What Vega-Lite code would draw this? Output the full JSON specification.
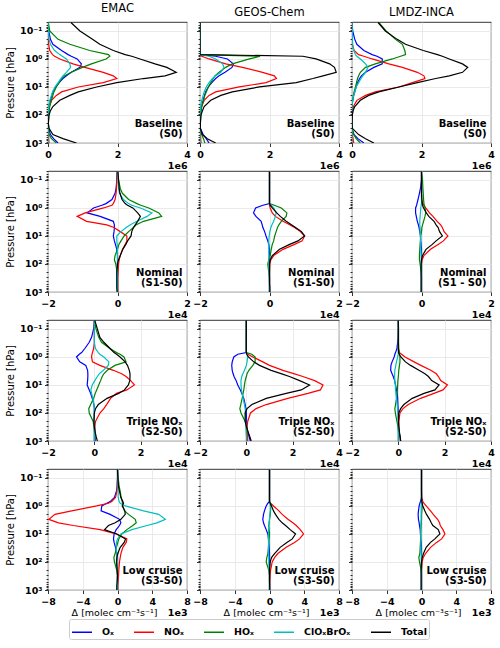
{
"$schema": "https://vega.github.io/schema/vega-lite/v6.json",
"padding": {"left": 5, "top": 2, "right": 5, "bottom": 0},
"background": "white",
"config": {
  "font": "DejaVu Sans",
  "view": {"stroke": "#000000", "strokeWidth": 0.8},
  "axis": {"domain": false, "labelOverlap": false, "labelFlush": false, "labelFont": "DejaVu Sans", "labelFontSize": 9.5, "labelFontWeight": "bold", "labelColor": "#000000", "tickColor": "#000000", "tickSize": 3.5, "tickWidth": 0.8, "gridColor": "#e5e5e5", "gridWidth": 0.8, "labelPadding": 2.5, "titleFont": "DejaVu Sans", "titleColor": "#000000", "titleFontWeight": "normal", "titleFontSize": 10},
  "legend": {"symbolType": "stroke", "symbolSize": 400, "symbolStrokeWidth": 1.5, "labelFont": "DejaVu Sans", "labelFontSize": 9.5, "labelFontWeight": "bold", "labelColor": "#000000", "labelOffset": 9, "columnPadding": 17, "padding": 2, "strokeColor": "#cccccc", "fillColor": "#ffffff", "cornerRadius": 2},
  "title": {"font": "DejaVu Sans", "fontSize": 11.5, "fontWeight": "normal", "color": "#000000", "offset": 3.3, "baseline": "alphabetic"}
},
"datasets": {
"names": [{"k":"O","name":"Oₓ"},{"k":"N","name":"NOₓ"},{"k":"H","name":"HOₓ"},{"k":"C","name":"ClOₓBrOₓ"},{"k":"T","name":"Total"}],
"d": [
{"s":1,"m":"E","p":0.05,"O":0,"N":0,"H":0.01,"C":0,"T":0.66},
{"s":1,"m":"E","p":0.1,"O":0.02,"N":0,"H":0.05,"C":0.01,"T":0.92},
{"s":1,"m":"E","p":0.2,"O":0.07,"N":0.01,"H":0.29,"C":0.03,"T":1.28},
{"s":1,"m":"E","p":0.3,"O":0.14,"N":0.02,"H":0.63,"C":0.07,"T":1.49},
{"s":1,"m":"E","p":0.5,"O":0.39,"N":0.05,"H":1.2,"C":0.19,"T":1.88},
{"s":1,"m":"E","p":0.7,"O":0.58,"N":0.13,"H":1.74,"C":0.34,"T":2.22},
{"s":1,"m":"E","p":0.8,"O":0.67,"N":0.19,"H":1.78,"C":0.41,"T":2.41},
{"s":1,"m":"E","p":1,"O":0.84,"N":0.34,"H":1.67,"C":0.53,"T":2.65},
{"s":1,"m":"E","p":1.5,"O":0.96,"N":0.72,"H":1.25,"C":0.63,"T":3.08},
{"s":1,"m":"E","p":2,"O":0.92,"N":1.06,"H":0.99,"C":0.65,"T":3.42},
{"s":1,"m":"E","p":3,"O":0.67,"N":1.59,"H":0.67,"C":0.53,"T":3.69},
{"s":1,"m":"E","p":4,"O":0.53,"N":1.88,"H":0.48,"C":0.43,"T":3.37},
{"s":1,"m":"E","p":5,"O":0.43,"N":1.98,"H":0.39,"C":0.37,"T":2.75},
{"s":1,"m":"E","p":7,"O":0.32,"N":1.59,"H":0.32,"C":0.29,"T":1.98},
{"s":1,"m":"E","p":10,"O":0.22,"N":0.87,"H":0.24,"C":0.2,"T":1.4},
{"s":1,"m":"E","p":15,"O":0.14,"N":0.39,"H":0.17,"C":0.13,"T":0.87},
{"s":1,"m":"E","p":20,"O":0.11,"N":0.24,"H":0.14,"C":0.1,"T":0.63},
{"s":1,"m":"E","p":30,"O":0.07,"N":0.1,"H":0.1,"C":0.05,"T":0.34},
{"s":1,"m":"E","p":50,"O":0.03,"N":0.03,"H":0.05,"C":0.02,"T":0.14},
{"s":1,"m":"E","p":70,"O":0.02,"N":0.01,"H":0.03,"C":0.01,"T":0.07},
{"s":1,"m":"E","p":100,"O":0.01,"N":0.01,"H":0.02,"C":0,"T":0.03},
{"s":1,"m":"E","p":200,"O":0.01,"N":0.01,"H":0.01,"C":0,"T":0.01},
{"s":1,"m":"E","p":300,"O":0.02,"N":0.01,"H":0.01,"C":0,"T":0.03},
{"s":1,"m":"E","p":500,"O":0.07,"N":0.02,"H":0.03,"C":0,"T":0.14},
{"s":1,"m":"E","p":700,"O":0.16,"N":0.02,"H":0.1,"C":0,"T":0.43},
{"s":1,"m":"E","p":1000,"O":0.29,"N":0.03,"H":0.24,"C":0.01,"T":0.82},
{"s":1,"m":"G","p":0.05,"O":0,"N":0,"H":0,"C":0,"T":0},
{"s":1,"m":"G","p":0.1,"O":0,"N":0,"H":0,"C":0,"T":0},
{"s":1,"m":"G","p":0.2,"O":0,"N":0,"H":0,"C":0,"T":0},
{"s":1,"m":"G","p":0.3,"O":0,"N":0,"H":0,"C":0,"T":0},
{"s":1,"m":"G","p":0.5,"O":0,"N":0,"H":0,"C":0,"T":0},
{"s":1,"m":"G","p":0.7,"O":0,"N":0,"H":0,"C":0,"T":0},
{"s":1,"m":"G","p":0.8,"O":0.45,"N":0.05,"H":1.73,"C":0.26,"T":2.96},
{"s":1,"m":"G","p":1,"O":0.79,"N":0.26,"H":1.42,"C":0.45,"T":3.34},
{"s":1,"m":"G","p":1.5,"O":0.96,"N":0.74,"H":0.93,"C":0.65,"T":3.73},
{"s":1,"m":"G","p":2,"O":0.92,"N":1.22,"H":0.74,"C":0.69,"T":3.87},
{"s":1,"m":"G","p":3,"O":0.72,"N":1.8,"H":0.55,"C":0.6,"T":3.92},
{"s":1,"m":"G","p":4,"O":0.55,"N":2.14,"H":0.43,"C":0.45,"T":3.54},
{"s":1,"m":"G","p":5,"O":0.45,"N":2.2,"H":0.38,"C":0.36,"T":3.25},
{"s":1,"m":"G","p":7,"O":0.34,"N":1.9,"H":0.31,"C":0.26,"T":2.77},
{"s":1,"m":"G","p":10,"O":0.24,"N":1.13,"H":0.24,"C":0.18,"T":1.71},
{"s":1,"m":"G","p":15,"O":0.16,"N":0.45,"H":0.18,"C":0.12,"T":0.93},
{"s":1,"m":"G","p":20,"O":0.13,"N":0.26,"H":0.14,"C":0.09,"T":0.6},
{"s":1,"m":"G","p":30,"O":0.09,"N":0.12,"H":0.1,"C":0.05,"T":0.31},
{"s":1,"m":"G","p":50,"O":0.04,"N":0.05,"H":0.05,"C":0.02,"T":0.12},
{"s":1,"m":"G","p":70,"O":0.02,"N":0.02,"H":0.03,"C":0.01,"T":0.07},
{"s":1,"m":"G","p":100,"O":0.01,"N":0.01,"H":0.02,"C":0,"T":0.03},
{"s":1,"m":"G","p":200,"O":0,"N":0.01,"H":0.01,"C":0,"T":0.01},
{"s":1,"m":"G","p":300,"O":0.01,"N":0.01,"H":0.01,"C":0,"T":0.01},
{"s":1,"m":"G","p":500,"O":0.09,"N":0.02,"H":0.05,"C":0,"T":0.07},
{"s":1,"m":"G","p":700,"O":0.18,"N":0.02,"H":0.1,"C":0,"T":0.21},
{"s":1,"m":"G","p":1000,"O":0.26,"N":0.03,"H":0.14,"C":0.01,"T":0.45},
{"s":1,"m":"L","p":0.05,"O":0,"N":0,"H":0.77,"C":0,"T":0.75},
{"s":1,"m":"L","p":0.1,"O":0.02,"N":0,"H":0.98,"C":0.01,"T":0.96},
{"s":1,"m":"L","p":0.2,"O":0.08,"N":0,"H":1.25,"C":0.01,"T":1.3},
{"s":1,"m":"L","p":0.3,"O":0.14,"N":0.01,"H":1.45,"C":0.02,"T":1.54},
{"s":1,"m":"L","p":0.5,"O":0.34,"N":0.06,"H":1.52,"C":0.05,"T":2.05},
{"s":1,"m":"L","p":0.7,"O":0.58,"N":0.19,"H":1.54,"C":0.1,"T":2.46},
{"s":1,"m":"L","p":0.8,"O":0.72,"N":0.34,"H":1.4,"C":0.14,"T":2.6},
{"s":1,"m":"L","p":1,"O":0.87,"N":0.58,"H":1.16,"C":0.24,"T":2.8},
{"s":1,"m":"L","p":1.5,"O":0.87,"N":1.06,"H":0.67,"C":0.39,"T":3.18},
{"s":1,"m":"L","p":2,"O":0.63,"N":1.45,"H":0.39,"C":0.46,"T":3.33},
{"s":1,"m":"L","p":3,"O":0.39,"N":1.88,"H":0.24,"C":0.39,"T":3.18},
{"s":1,"m":"L","p":4,"O":0.27,"N":2.07,"H":0.19,"C":0.31,"T":2.8},
{"s":1,"m":"L","p":5,"O":0.22,"N":2.1,"H":0.16,"C":0.26,"T":2.41},
{"s":1,"m":"L","p":7,"O":0.16,"N":1.74,"H":0.13,"C":0.19,"T":1.88},
{"s":1,"m":"L","p":10,"O":0.12,"N":1.35,"H":0.1,"C":0.12,"T":1.35},
{"s":1,"m":"L","p":15,"O":0.08,"N":0.67,"H":0.06,"C":0.08,"T":0.77},
{"s":1,"m":"L","p":20,"O":0.05,"N":0.39,"H":0.04,"C":0.05,"T":0.48},
{"s":1,"m":"L","p":30,"O":0.02,"N":0.14,"H":0.02,"C":0.02,"T":0.24},
{"s":1,"m":"L","p":50,"O":0,"N":0.04,"H":0,"C":0,"T":0.08},
{"s":1,"m":"L","p":70,"O":0,"N":0.02,"H":0,"C":0,"T":0.03},
{"s":1,"m":"L","p":100,"O":0,"N":0.01,"H":0,"C":0,"T":0.01},
{"s":1,"m":"L","p":200,"O":0,"N":0,"H":0,"C":0,"T":0},
{"s":1,"m":"L","p":300,"O":0,"N":0,"H":0,"C":0,"T":0.01},
{"s":1,"m":"L","p":500,"O":0.06,"N":0.01,"H":0.05,"C":0,"T":0.19},
{"s":1,"m":"L","p":700,"O":0.17,"N":0.03,"H":0.12,"C":0,"T":0.39},
{"s":1,"m":"L","p":1000,"O":0.34,"N":0.05,"H":0.24,"C":0,"T":0.63},
{"s":2,"m":"E","p":0.05,"O":-0.01,"N":-0.01,"H":0.01,"C":0,"T":0.01},
{"s":2,"m":"E","p":0.1,"O":-0.02,"N":-0.02,"H":0.03,"C":0.01,"T":0.03},
{"s":2,"m":"E","p":0.2,"O":-0.04,"N":-0.03,"H":0.08,"C":0.03,"T":0.05},
{"s":2,"m":"E","p":0.3,"O":-0.07,"N":-0.04,"H":0.14,"C":0.06,"T":0.07},
{"s":2,"m":"E","p":0.5,"O":-0.16,"N":-0.07,"H":0.32,"C":0.17,"T":0.13},
{"s":2,"m":"E","p":0.7,"O":-0.33,"N":-0.12,"H":0.56,"C":0.32,"T":0.22},
{"s":2,"m":"E","p":0.8,"O":-0.45,"N":-0.16,"H":0.67,"C":0.41,"T":0.29},
{"s":2,"m":"E","p":1,"O":-0.69,"N":-0.4,"H":0.9,"C":0.66,"T":0.44},
{"s":2,"m":"E","p":1.5,"O":-0.87,"N":-0.93,"H":1.19,"C":0.99,"T":0.58},
{"s":2,"m":"E","p":2,"O":-0.5,"N":-1.16,"H":1.27,"C":0.85,"T":0.66},
{"s":2,"m":"E","p":3,"O":-0.12,"N":-0.89,"H":0.75,"C":0.56,"T":0.58},
{"s":2,"m":"E","p":4,"O":-0.09,"N":-0.31,"H":0.54,"C":0.37,"T":0.51},
{"s":2,"m":"E","p":5,"O":-0.09,"N":-0.1,"H":0.46,"C":0.25,"T":0.46},
{"s":2,"m":"E","p":7,"O":-0.1,"N":0.08,"H":0.32,"C":0.1,"T":0.41},
{"s":2,"m":"E","p":10,"O":-0.12,"N":0.27,"H":0.19,"C":-0.02,"T":0.39},
{"s":2,"m":"E","p":15,"O":-0.09,"N":0.27,"H":0.1,"C":-0.02,"T":0.29},
{"s":2,"m":"E","p":20,"O":-0.06,"N":0.22,"H":0.04,"C":-0.01,"T":0.24},
{"s":2,"m":"E","p":30,"O":-0.02,"N":0.15,"H":0,"C":0,"T":0.15},
{"s":2,"m":"E","p":50,"O":0,"N":0.08,"H":-0.07,"C":0,"T":0.08},
{"s":2,"m":"E","p":70,"O":0,"N":0.05,"H":-0.09,"C":0,"T":0.03},
{"s":2,"m":"E","p":100,"O":0,"N":0.03,"H":-0.05,"C":0,"T":0},
{"s":2,"m":"E","p":200,"O":0,"N":0.02,"H":-0.01,"C":0,"T":-0.02},
{"s":2,"m":"E","p":300,"O":0,"N":0.01,"H":0,"C":0,"T":-0.02},
{"s":2,"m":"E","p":500,"O":0,"N":0.01,"H":0,"C":0,"T":-0.02},
{"s":2,"m":"E","p":700,"O":0,"N":0.01,"H":0,"C":0,"T":-0.02},
{"s":2,"m":"E","p":1000,"O":0,"N":0.01,"H":0,"C":0,"T":-0.01},
{"s":2,"m":"G","p":0.05,"O":0,"N":0,"H":0,"C":0,"T":0},
{"s":2,"m":"G","p":0.1,"O":0,"N":0,"H":0,"C":0,"T":0},
{"s":2,"m":"G","p":0.2,"O":0,"N":0,"H":0,"C":0,"T":0},
{"s":2,"m":"G","p":0.3,"O":0,"N":0,"H":0,"C":0,"T":0},
{"s":2,"m":"G","p":0.5,"O":0,"N":0,"H":0,"C":0,"T":0},
{"s":2,"m":"G","p":0.7,"O":0,"N":0,"H":0,"C":0,"T":0},
{"s":2,"m":"G","p":0.8,"O":-0.19,"N":0,"H":0.14,"C":0.05,"T":0.02},
{"s":2,"m":"G","p":1,"O":-0.4,"N":0.02,"H":0.34,"C":0.12,"T":0.08},
{"s":2,"m":"G","p":1.5,"O":-0.46,"N":0.08,"H":0.5,"C":0.19,"T":0.21},
{"s":2,"m":"G","p":2,"O":-0.39,"N":0.17,"H":0.48,"C":0.17,"T":0.31},
{"s":2,"m":"G","p":3,"O":-0.24,"N":0.39,"H":0.34,"C":0.12,"T":0.48},
{"s":2,"m":"G","p":4,"O":-0.21,"N":0.58,"H":0.27,"C":0.07,"T":0.63},
{"s":2,"m":"G","p":5,"O":-0.19,"N":0.72,"H":0.23,"C":0.04,"T":0.75},
{"s":2,"m":"G","p":7,"O":-0.14,"N":0.89,"H":0.19,"C":0.01,"T":0.92},
{"s":2,"m":"G","p":10,"O":-0.1,"N":1.01,"H":0.15,"C":-0.01,"T":1.01},
{"s":2,"m":"G","p":15,"O":-0.05,"N":0.94,"H":0.12,"C":-0.02,"T":0.82},
{"s":2,"m":"G","p":20,"O":-0.02,"N":0.72,"H":0.08,"C":-0.02,"T":0.58},
{"s":2,"m":"G","p":30,"O":0,"N":0.39,"H":0.05,"C":-0.02,"T":0.29},
{"s":2,"m":"G","p":50,"O":0,"N":0.12,"H":0.02,"C":-0.02,"T":0.08},
{"s":2,"m":"G","p":70,"O":0,"N":0.04,"H":-0.02,"C":-0.02,"T":0.02},
{"s":2,"m":"G","p":100,"O":0,"N":0.01,"H":-0.05,"C":-0.02,"T":0},
{"s":2,"m":"G","p":200,"O":0,"N":0,"H":-0.02,"C":-0.01,"T":0},
{"s":2,"m":"G","p":300,"O":0,"N":0,"H":0,"C":-0.01,"T":0},
{"s":2,"m":"G","p":500,"O":0,"N":0,"H":0,"C":0,"T":0},
{"s":2,"m":"G","p":700,"O":0,"N":0,"H":0,"C":0,"T":0.01},
{"s":2,"m":"G","p":1000,"O":0,"N":0,"H":0,"C":0,"T":0.01},
{"s":2,"m":"L","p":0.05,"O":0,"N":0,"H":0,"C":0,"T":0},
{"s":2,"m":"L","p":0.1,"O":0,"N":0,"H":0.03,"C":0,"T":0},
{"s":2,"m":"L","p":0.2,"O":-0.03,"N":0,"H":0.04,"C":0,"T":0},
{"s":2,"m":"L","p":0.3,"O":-0.06,"N":0,"H":0.05,"C":0,"T":0},
{"s":2,"m":"L","p":0.5,"O":-0.1,"N":0,"H":0.06,"C":0,"T":0.01},
{"s":2,"m":"L","p":0.7,"O":-0.13,"N":0.04,"H":0.07,"C":0,"T":0.02},
{"s":2,"m":"L","p":0.8,"O":-0.14,"N":0.07,"H":0.08,"C":-0.01,"T":0.03},
{"s":2,"m":"L","p":1,"O":-0.17,"N":0.12,"H":0.1,"C":-0.02,"T":0.06},
{"s":2,"m":"L","p":1.5,"O":-0.17,"N":0.23,"H":0.12,"C":-0.03,"T":0.14},
{"s":2,"m":"L","p":2,"O":-0.15,"N":0.33,"H":0.1,"C":-0.04,"T":0.21},
{"s":2,"m":"L","p":3,"O":-0.12,"N":0.45,"H":0.06,"C":-0.05,"T":0.36},
{"s":2,"m":"L","p":4,"O":-0.09,"N":0.55,"H":0.03,"C":-0.05,"T":0.42},
{"s":2,"m":"L","p":5,"O":-0.07,"N":0.6,"H":0.01,"C":-0.04,"T":0.48},
{"s":2,"m":"L","p":7,"O":-0.05,"N":0.65,"H":0,"C":-0.04,"T":0.52},
{"s":2,"m":"L","p":10,"O":-0.03,"N":0.76,"H":-0.02,"C":-0.03,"T":0.6},
{"s":2,"m":"L","p":15,"O":-0.02,"N":0.63,"H":-0.03,"C":-0.03,"T":0.42},
{"s":2,"m":"L","p":20,"O":-0.01,"N":0.48,"H":-0.04,"C":-0.02,"T":0.31},
{"s":2,"m":"L","p":30,"O":0,"N":0.26,"H":-0.05,"C":-0.02,"T":0.13},
{"s":2,"m":"L","p":50,"O":0,"N":0.07,"H":-0.06,"C":-0.01,"T":0.03},
{"s":2,"m":"L","p":70,"O":0,"N":0.02,"H":-0.06,"C":0,"T":0},
{"s":2,"m":"L","p":100,"O":0,"N":0,"H":-0.04,"C":0,"T":-0.01},
{"s":2,"m":"L","p":200,"O":0,"N":0,"H":-0.01,"C":0,"T":-0.01},
{"s":2,"m":"L","p":300,"O":0,"N":0,"H":0,"C":0,"T":-0.01},
{"s":2,"m":"L","p":500,"O":0,"N":0,"H":0,"C":0,"T":-0.01},
{"s":2,"m":"L","p":700,"O":0,"N":0,"H":0,"C":0,"T":-0.01},
{"s":2,"m":"L","p":1000,"O":0,"N":0,"H":0,"C":0,"T":-0.01},
{"s":3,"m":"E","p":0.05,"O":0,"N":0,"H":0,"C":0,"T":0.02},
{"s":3,"m":"E","p":0.1,"O":-0.03,"N":0,"H":0.07,"C":0,"T":0.13},
{"s":3,"m":"E","p":0.2,"O":-0.12,"N":0,"H":0.19,"C":0,"T":0.24},
{"s":3,"m":"E","p":0.3,"O":-0.22,"N":0,"H":0.31,"C":0,"T":0.41},
{"s":3,"m":"E","p":0.5,"O":-0.41,"N":-0.03,"H":0.67,"C":0.05,"T":0.68},
{"s":3,"m":"E","p":0.7,"O":-0.55,"N":-0.08,"H":0.96,"C":0.17,"T":0.85},
{"s":3,"m":"E","p":0.8,"O":-0.65,"N":-0.1,"H":1.11,"C":0.24,"T":0.96},
{"s":3,"m":"E","p":1,"O":-0.77,"N":-0.12,"H":1.28,"C":0.41,"T":1.11},
{"s":3,"m":"E","p":1.5,"O":-0.63,"N":-0.08,"H":1.37,"C":0.63,"T":1.33},
{"s":3,"m":"E","p":2,"O":-0.37,"N":0.24,"H":0.89,"C":0.6,"T":1.43},
{"s":3,"m":"E","p":3,"O":-0.29,"N":0.82,"H":0.56,"C":0.39,"T":1.51},
{"s":3,"m":"E","p":4,"O":-0.28,"N":1.18,"H":0.41,"C":0.21,"T":1.54},
{"s":3,"m":"E","p":5,"O":-0.28,"N":1.37,"H":0.34,"C":0.13,"T":1.54},
{"s":3,"m":"E","p":7,"O":-0.29,"N":1.57,"H":0.27,"C":0.02,"T":1.53},
{"s":3,"m":"E","p":10,"O":-0.31,"N":1.73,"H":0.19,"C":-0.09,"T":1.47},
{"s":3,"m":"E","p":15,"O":-0.22,"N":1.4,"H":0.1,"C":-0.15,"T":1.3},
{"s":3,"m":"E","p":20,"O":-0.16,"N":0.96,"H":0.04,"C":-0.12,"T":1.05},
{"s":3,"m":"E","p":30,"O":-0.09,"N":0.7,"H":-0.03,"C":-0.06,"T":0.55},
{"s":3,"m":"E","p":50,"O":-0.02,"N":0.53,"H":-0.16,"C":-0.02,"T":0.17},
{"s":3,"m":"E","p":70,"O":0,"N":0.41,"H":-0.24,"C":0,"T":0.05},
{"s":3,"m":"E","p":100,"O":0,"N":0.24,"H":-0.22,"C":0,"T":0},
{"s":3,"m":"E","p":200,"O":0,"N":0.05,"H":-0.05,"C":0,"T":-0.02},
{"s":3,"m":"E","p":300,"O":0.01,"N":0.02,"H":-0.02,"C":0,"T":0},
{"s":3,"m":"E","p":500,"O":0.02,"N":0.01,"H":0,"C":0,"T":0.04},
{"s":3,"m":"E","p":700,"O":0.03,"N":0.01,"H":0,"C":0,"T":0.08},
{"s":3,"m":"E","p":1000,"O":0.04,"N":0.01,"H":0,"C":0,"T":0.13},
{"s":3,"m":"G","p":0.05,"O":0,"N":0,"H":0,"C":0,"T":0},
{"s":3,"m":"G","p":0.1,"O":0,"N":0,"H":0,"C":0,"T":0},
{"s":3,"m":"G","p":0.2,"O":0,"N":0,"H":0,"C":0,"T":0},
{"s":3,"m":"G","p":0.3,"O":0,"N":0,"H":0,"C":0,"T":0},
{"s":3,"m":"G","p":0.5,"O":0,"N":0,"H":0,"C":0,"T":0},
{"s":3,"m":"G","p":0.7,"O":0,"N":0,"H":0,"C":0,"T":0},
{"s":3,"m":"G","p":0.8,"O":-0.37,"N":0.06,"H":0.24,"C":0.03,"T":0.02},
{"s":3,"m":"G","p":1,"O":-0.54,"N":0.28,"H":0.38,"C":0.06,"T":0.09},
{"s":3,"m":"G","p":1.5,"O":-0.61,"N":0.71,"H":0.38,"C":0.03,"T":0.32},
{"s":3,"m":"G","p":2,"O":-0.63,"N":1.0,"H":0.28,"C":0,"T":0.57},
{"s":3,"m":"G","p":3,"O":-0.61,"N":1.58,"H":0.11,"C":-0.08,"T":1.07},
{"s":3,"m":"G","p":4,"O":-0.57,"N":2.08,"H":0.03,"C":-0.15,"T":1.53},
{"s":3,"m":"G","p":5,"O":-0.53,"N":2.44,"H":0,"C":-0.2,"T":1.86},
{"s":3,"m":"G","p":7,"O":-0.44,"N":2.95,"H":-0.05,"C":-0.23,"T":2.3},
{"s":3,"m":"G","p":10,"O":-0.37,"N":3.31,"H":-0.08,"C":-0.23,"T":2.73},
{"s":3,"m":"G","p":15,"O":-0.26,"N":3.2,"H":-0.11,"C":-0.21,"T":2.37},
{"s":3,"m":"G","p":20,"O":-0.2,"N":2.66,"H":-0.14,"C":-0.18,"T":1.72},
{"s":3,"m":"G","p":30,"O":-0.11,"N":1.79,"H":-0.18,"C":-0.14,"T":0.86},
{"s":3,"m":"G","p":50,"O":-0.05,"N":0.86,"H":-0.24,"C":-0.08,"T":0.24},
{"s":3,"m":"G","p":70,"O":-0.02,"N":0.42,"H":-0.28,"C":-0.05,"T":0.03},
{"s":3,"m":"G","p":100,"O":0,"N":0.18,"H":-0.23,"C":-0.04,"T":-0.05},
{"s":3,"m":"G","p":200,"O":0.01,"N":0.06,"H":-0.05,"C":-0.03,"T":-0.05},
{"s":3,"m":"G","p":300,"O":0.02,"N":0.03,"H":0,"C":-0.02,"T":0},
{"s":3,"m":"G","p":500,"O":0.06,"N":0.06,"H":0.01,"C":-0.01,"T":0.09},
{"s":3,"m":"G","p":700,"O":0.12,"N":0.06,"H":0.01,"C":0,"T":0.15},
{"s":3,"m":"G","p":1000,"O":0.17,"N":0.06,"H":0.01,"C":0,"T":0.21},
{"s":3,"m":"L","p":0.05,"O":0,"N":0,"H":0,"C":0,"T":0},
{"s":3,"m":"L","p":0.1,"O":0,"N":0,"H":0.01,"C":0,"T":0},
{"s":3,"m":"L","p":0.2,"O":-0.01,"N":0,"H":0.01,"C":0,"T":0},
{"s":3,"m":"L","p":0.3,"O":-0.03,"N":0,"H":0.01,"C":0,"T":0},
{"s":3,"m":"L","p":0.5,"O":-0.06,"N":0,"H":0.02,"C":0,"T":0},
{"s":3,"m":"L","p":0.7,"O":-0.12,"N":0.05,"H":0.04,"C":0,"T":0.01},
{"s":3,"m":"L","p":0.8,"O":-0.15,"N":0.14,"H":0.05,"C":-0.01,"T":0.04},
{"s":3,"m":"L","p":1,"O":-0.18,"N":0.29,"H":0.07,"C":-0.03,"T":0.11},
{"s":3,"m":"L","p":1.5,"O":-0.27,"N":0.68,"H":0.07,"C":-0.08,"T":0.31},
{"s":3,"m":"L","p":2,"O":-0.32,"N":0.97,"H":0.05,"C":-0.11,"T":0.53},
{"s":3,"m":"L","p":3,"O":-0.33,"N":1.4,"H":0.02,"C":-0.15,"T":0.89},
{"s":3,"m":"L","p":4,"O":-0.27,"N":1.64,"H":0.01,"C":-0.16,"T":1.15},
{"s":3,"m":"L","p":5,"O":-0.22,"N":1.73,"H":0,"C":-0.16,"T":1.3},
{"s":3,"m":"L","p":7,"O":-0.16,"N":1.83,"H":-0.02,"C":-0.15,"T":1.44},
{"s":3,"m":"L","p":10,"O":-0.12,"N":2.12,"H":-0.03,"C":-0.13,"T":1.76},
{"s":3,"m":"L","p":15,"O":-0.08,"N":1.93,"H":-0.04,"C":-0.12,"T":1.58},
{"s":3,"m":"L","p":20,"O":-0.05,"N":1.54,"H":-0.06,"C":-0.11,"T":1.11},
{"s":3,"m":"L","p":30,"O":-0.03,"N":0.96,"H":-0.08,"C":-0.08,"T":0.6},
{"s":3,"m":"L","p":50,"O":-0.02,"N":0.43,"H":-0.12,"C":-0.05,"T":0.24},
{"s":3,"m":"L","p":70,"O":-0.01,"N":0.2,"H":-0.15,"C":-0.03,"T":0.1},
{"s":3,"m":"L","p":100,"O":0,"N":0.07,"H":-0.13,"C":-0.02,"T":0.02},
{"s":3,"m":"L","p":200,"O":0,"N":0.02,"H":-0.06,"C":0,"T":0.01},
{"s":3,"m":"L","p":300,"O":0.01,"N":0.02,"H":-0.02,"C":0,"T":0.02},
{"s":3,"m":"L","p":500,"O":0.04,"N":0.02,"H":0,"C":0,"T":0.05},
{"s":3,"m":"L","p":700,"O":0.07,"N":0.02,"H":0,"C":0,"T":0.08},
{"s":3,"m":"L","p":1000,"O":0.1,"N":0.02,"H":0,"C":0,"T":0.1},
{"s":4,"m":"E","p":0.05,"O":0,"N":0,"H":0,"C":0,"T":0},
{"s":4,"m":"E","p":0.1,"O":0,"N":0,"H":0.08,"C":0.02,"T":0.04},
{"s":4,"m":"E","p":0.2,"O":-0.04,"N":-0.04,"H":0.19,"C":0.04,"T":0.12},
{"s":4,"m":"E","p":0.3,"O":-0.12,"N":-0.08,"H":0.31,"C":0.06,"T":0.23},
{"s":4,"m":"E","p":0.5,"O":-0.35,"N":-0.23,"H":0.42,"C":0.08,"T":0.39},
{"s":4,"m":"E","p":0.7,"O":-0.85,"N":-0.66,"H":0.54,"C":0.19,"T":0.62},
{"s":4,"m":"E","p":0.8,"O":-1.23,"N":-1.04,"H":0.58,"C":0.31,"T":0.69},
{"s":4,"m":"E","p":1,"O":-1.81,"N":-2.4,"H":0.62,"C":0.89,"T":0.54},
{"s":4,"m":"E","p":1.5,"O":-1.89,"N":-5.28,"H":0.81,"C":3.0,"T":0.85},
{"s":4,"m":"E","p":2,"O":-0.85,"N":-7.2,"H":1.27,"C":4.74,"T":0.89},
{"s":4,"m":"E","p":3,"O":0.23,"N":-7.9,"H":2.04,"C":5.51,"T":0.39},
{"s":4,"m":"E","p":4,"O":0.39,"N":-6.8,"H":2.16,"C":4.55,"T":-0.27},
{"s":4,"m":"E","p":5,"O":0.23,"N":-5.09,"H":1.77,"C":3.39,"T":-1.04},
{"s":4,"m":"E","p":7,"O":-0.15,"N":-2.0,"H":1.08,"C":1.66,"T":-1.5},
{"s":4,"m":"E","p":10,"O":-0.39,"N":-0.15,"H":0.5,"C":0.39,"T":-0.08},
{"s":4,"m":"E","p":15,"O":-0.46,"N":1.08,"H":0.15,"C":0,"T":0.93},
{"s":4,"m":"E","p":20,"O":-0.39,"N":1.0,"H":0.04,"C":-0.12,"T":0.77},
{"s":4,"m":"E","p":30,"O":-0.23,"N":0.62,"H":-0.12,"C":-0.15,"T":0.31},
{"s":4,"m":"E","p":50,"O":-0.08,"N":0.39,"H":-0.27,"C":-0.08,"T":0.04},
{"s":4,"m":"E","p":70,"O":0,"N":0.31,"H":-0.42,"C":0,"T":-0.08},
{"s":4,"m":"E","p":100,"O":0,"N":0.23,"H":-0.35,"C":0,"T":-0.12},
{"s":4,"m":"E","p":200,"O":0,"N":0.15,"H":-0.08,"C":0,"T":-0.04},
{"s":4,"m":"E","p":300,"O":0,"N":0.12,"H":0,"C":0,"T":0},
{"s":4,"m":"E","p":500,"O":0,"N":0.08,"H":0,"C":0,"T":-0.04},
{"s":4,"m":"E","p":700,"O":0,"N":0.04,"H":0,"C":0,"T":-0.08},
{"s":4,"m":"E","p":1000,"O":0,"N":0.04,"H":0,"C":0,"T":-0.08},
{"s":4,"m":"G","p":0.05,"O":0,"N":0,"H":0,"C":0,"T":0},
{"s":4,"m":"G","p":0.1,"O":0,"N":0,"H":0,"C":0,"T":0},
{"s":4,"m":"G","p":0.2,"O":0,"N":0,"H":0,"C":0,"T":0},
{"s":4,"m":"G","p":0.3,"O":0,"N":0,"H":0,"C":0,"T":0},
{"s":4,"m":"G","p":0.5,"O":0,"N":0,"H":0,"C":0,"T":0},
{"s":4,"m":"G","p":0.7,"O":0,"N":0,"H":0,"C":0,"T":0},
{"s":4,"m":"G","p":0.8,"O":-0.19,"N":0.12,"H":0.12,"C":0.04,"T":0.08},
{"s":4,"m":"G","p":1,"O":-0.38,"N":0.46,"H":0.15,"C":0.08,"T":0.23},
{"s":4,"m":"G","p":1.5,"O":-0.58,"N":1.08,"H":0.12,"C":0.08,"T":0.46},
{"s":4,"m":"G","p":2,"O":-0.69,"N":1.46,"H":0.08,"C":0.04,"T":0.69},
{"s":4,"m":"G","p":3,"O":-0.77,"N":2.12,"H":0,"C":0,"T":1.08},
{"s":4,"m":"G","p":4,"O":-0.69,"N":2.69,"H":-0.04,"C":-0.04,"T":1.46},
{"s":4,"m":"G","p":5,"O":-0.58,"N":3.08,"H":-0.08,"C":-0.08,"T":1.85},
{"s":4,"m":"G","p":7,"O":-0.38,"N":3.54,"H":-0.04,"C":-0.1,"T":2.38},
{"s":4,"m":"G","p":10,"O":-0.19,"N":3.92,"H":0,"C":-0.12,"T":3.0},
{"s":4,"m":"G","p":15,"O":-0.12,"N":3.46,"H":-0.04,"C":-0.12,"T":2.62},
{"s":4,"m":"G","p":20,"O":-0.08,"N":2.88,"H":-0.08,"C":-0.12,"T":2.0},
{"s":4,"m":"G","p":30,"O":-0.04,"N":1.92,"H":-0.12,"C":-0.12,"T":1.23},
{"s":4,"m":"G","p":50,"O":0,"N":0.96,"H":-0.19,"C":-0.1,"T":0.58},
{"s":4,"m":"G","p":70,"O":0,"N":0.58,"H":-0.31,"C":-0.08,"T":0.23},
{"s":4,"m":"G","p":100,"O":0,"N":0.31,"H":-0.38,"C":-0.08,"T":0.08},
{"s":4,"m":"G","p":200,"O":0,"N":0.12,"H":-0.08,"C":-0.04,"T":0},
{"s":4,"m":"G","p":300,"O":0,"N":0.08,"H":0,"C":0,"T":0},
{"s":4,"m":"G","p":500,"O":0,"N":0.04,"H":0,"C":0,"T":0},
{"s":4,"m":"G","p":700,"O":0,"N":0.02,"H":0,"C":0,"T":0.02},
{"s":4,"m":"G","p":1000,"O":0,"N":0,"H":0,"C":0,"T":0.04},
{"s":4,"m":"L","p":0.05,"O":0,"N":0,"H":0,"C":0,"T":0},
{"s":4,"m":"L","p":0.1,"O":0,"N":0,"H":0,"C":0,"T":0},
{"s":4,"m":"L","p":0.2,"O":0,"N":0,"H":0,"C":0,"T":0},
{"s":4,"m":"L","p":0.3,"O":0,"N":0,"H":0,"C":0,"T":0},
{"s":4,"m":"L","p":0.5,"O":0,"N":0.04,"H":0,"C":0,"T":0},
{"s":4,"m":"L","p":0.7,"O":-0.12,"N":0.15,"H":0,"C":0,"T":0.04},
{"s":4,"m":"L","p":0.8,"O":-0.19,"N":0.27,"H":0.04,"C":0,"T":0.08},
{"s":4,"m":"L","p":1,"O":-0.27,"N":0.54,"H":0.08,"C":-0.04,"T":0.15},
{"s":4,"m":"L","p":1.5,"O":-0.35,"N":1.04,"H":0.04,"C":-0.04,"T":0.39},
{"s":4,"m":"L","p":2,"O":-0.39,"N":1.35,"H":0,"C":-0.04,"T":0.58},
{"s":4,"m":"L","p":3,"O":-0.35,"N":1.85,"H":0,"C":-0.04,"T":0.93},
{"s":4,"m":"L","p":4,"O":-0.27,"N":2.08,"H":-0.02,"C":-0.06,"T":1.12},
{"s":4,"m":"L","p":5,"O":-0.23,"N":2.16,"H":-0.04,"C":-0.08,"T":1.31},
{"s":4,"m":"L","p":7,"O":-0.15,"N":2.47,"H":-0.06,"C":-0.08,"T":1.93},
{"s":4,"m":"L","p":10,"O":-0.12,"N":2.7,"H":-0.08,"C":-0.08,"T":2.12},
{"s":4,"m":"L","p":15,"O":-0.08,"N":2.32,"H":-0.1,"C":-0.08,"T":1.54},
{"s":4,"m":"L","p":20,"O":-0.04,"N":1.74,"H":-0.12,"C":-0.08,"T":1.04},
{"s":4,"m":"L","p":30,"O":0,"N":1.04,"H":-0.15,"C":-0.06,"T":0.54},
{"s":4,"m":"L","p":50,"O":0,"N":0.46,"H":-0.19,"C":-0.04,"T":0.23},
{"s":4,"m":"L","p":70,"O":0,"N":0.19,"H":-0.31,"C":-0.02,"T":0.08},
{"s":4,"m":"L","p":100,"O":0,"N":0.08,"H":-0.23,"C":0,"T":0},
{"s":4,"m":"L","p":200,"O":0,"N":0,"H":-0.04,"C":0,"T":-0.04},
{"s":4,"m":"L","p":300,"O":0,"N":0,"H":0,"C":0,"T":-0.04},
{"s":4,"m":"L","p":500,"O":0,"N":0,"H":0,"C":0,"T":-0.04},
{"s":4,"m":"L","p":700,"O":0,"N":0,"H":0,"C":0,"T":-0.04},
{"s":4,"m":"L","p":1000,"O":0,"N":0,"H":0,"C":0,"T":-0.04}
]},
"data": {"name": "d"},
"transform": [
  {"fold": ["O","N","H","C","T"], "as": ["k","v"]},
  {"lookup": "k", "from": {"data": {"name": "names"}, "key": "k", "fields": ["name"]}}
],
"columns": 3,
"spacing": {"row": 28, "column": 13},
"bounds": "flush",
"resolve": {"scale": {"x": "independent", "y": "independent"}, "axis": {"x": "independent", "y": "independent"}},
"concat": [
  {"width": 139, "height": 121, "title": "EMAC", "layer": [
   {"transform": [{"filter": "datum.s==1 && datum.m=='E'"}],
    "mark": {"type": "line", "strokeWidth": 1.2, "clip": true},
    "encoding": {
     "x": {"field": "v", "type": "quantitative", "scale": {"domain": [0,4], "nice": false, "zero": false}, "axis": {"values": [0,1,2,3,4], "title": "1e6", "titleX": 139, "titleY": 25.5, "titleAlign": "right", "titleBaseline": "alphabetic", "titleFontWeight": "bold", "titleFontSize": 9.5}},
     "y": {"field": "p", "type": "quantitative", "scale": {"type": "log", "domain": [0.048,1000], "reverse": true, "nice": false}, "axis": {"title": "Pressure [hPa]", "titlePadding": 4, "values": [0.05,0.06,0.07,0.08,0.09,0.1,0.2,0.3,0.4,0.5,0.6,0.7,0.8,0.9,1,2,3,4,5,6,7,8,9,10,20,30,40,50,60,70,80,90,100,200,300,400,500,600,700,800,900,1000], "labelExpr": "datum.value == 0.1 ? '10⁻¹' : datum.value == 1 ? '10⁰' : datum.value == 10 ? '10¹' : datum.value == 100 ? '10²' : datum.value == 1000 ? '10³' : ''", "tickSize": {"condition": {"test": "indexof([0.1,1,10,100,1000], datum.value) >= 0", "value": 3.5}, "value": 2}, "gridOpacity": {"condition": {"test": "indexof([0.1,1,10,100,1000], datum.value) >= 0", "value": 1}, "value": 0}}},
     "color": {"field": "name", "type": "nominal", "title": null, "scale": {"domain": ["Oₓ","NOₓ","HOₓ","ClOₓBrOₓ","Total"], "range": ["#0000ff","#ff0000","#008000","#00bfbf","#000000"]}, "legend": {"orient": "none", "legendX": 21, "legendY": 597, "direction": "horizontal"}},
     "order": {"field": "p", "type": "quantitative"}}},
   {"data": {"values": [{}]},
    "mark": {"type": "text", "align": "right", "baseline": "alphabetic", "dx": -4.5, "dy": -16.5, "fontSize": 10, "fontWeight": "bold", "lineHeight": 10.8},
    "encoding": {"x": {"datum": 4}, "y": {"datum": 1000}, "text": {"value": ["Baseline","(S0)"]}}}
  ]},
  {"width": 139, "height": 121, "title": "GEOS-Chem", "layer": [
   {"transform": [{"filter": "datum.s==1 && datum.m=='G'"}],
    "mark": {"type": "line", "strokeWidth": 1.2, "clip": true},
    "encoding": {
     "x": {"field": "v", "type": "quantitative", "scale": {"domain": [0,4], "nice": false, "zero": false}, "axis": {"values": [0,1,2,3,4], "title": "1e6", "titleX": 139, "titleY": 25.5, "titleAlign": "right", "titleBaseline": "alphabetic", "titleFontWeight": "bold", "titleFontSize": 9.5}},
     "y": {"field": "p", "type": "quantitative", "scale": {"type": "log", "domain": [0.048,1000], "reverse": true, "nice": false}, "axis": {"title": null, "labels": false, "values": [0.05,0.06,0.07,0.08,0.09,0.1,0.2,0.3,0.4,0.5,0.6,0.7,0.8,0.9,1,2,3,4,5,6,7,8,9,10,20,30,40,50,60,70,80,90,100,200,300,400,500,600,700,800,900,1000], "tickSize": {"condition": {"test": "indexof([0.1,1,10,100,1000], datum.value) >= 0", "value": 3.5}, "value": 2}, "gridOpacity": {"condition": {"test": "indexof([0.1,1,10,100,1000], datum.value) >= 0", "value": 1}, "value": 0}}},
     "color": {"field": "name", "type": "nominal", "title": null, "scale": {"domain": ["Oₓ","NOₓ","HOₓ","ClOₓBrOₓ","Total"], "range": ["#0000ff","#ff0000","#008000","#00bfbf","#000000"]}, "legend": {"orient": "none", "legendX": 21, "legendY": 597, "direction": "horizontal"}},
     "order": {"field": "p", "type": "quantitative"}}},
   {"data": {"values": [{}]},
    "mark": {"type": "text", "align": "right", "baseline": "alphabetic", "dx": -4.5, "dy": -16.5, "fontSize": 10, "fontWeight": "bold", "lineHeight": 10.8},
    "encoding": {"x": {"datum": 4}, "y": {"datum": 1000}, "text": {"value": ["Baseline","(S0)"]}}}
  ]},
  {"width": 139, "height": 121, "title": "LMDZ-INCA", "layer": [
   {"transform": [{"filter": "datum.s==1 && datum.m=='L'"}],
    "mark": {"type": "line", "strokeWidth": 1.2, "clip": true},
    "encoding": {
     "x": {"field": "v", "type": "quantitative", "scale": {"domain": [0,4], "nice": false, "zero": false}, "axis": {"values": [0,1,2,3,4], "title": "1e6", "titleX": 139, "titleY": 25.5, "titleAlign": "right", "titleBaseline": "alphabetic", "titleFontWeight": "bold", "titleFontSize": 9.5}},
     "y": {"field": "p", "type": "quantitative", "scale": {"type": "log", "domain": [0.048,1000], "reverse": true, "nice": false}, "axis": {"title": null, "labels": false, "values": [0.05,0.06,0.07,0.08,0.09,0.1,0.2,0.3,0.4,0.5,0.6,0.7,0.8,0.9,1,2,3,4,5,6,7,8,9,10,20,30,40,50,60,70,80,90,100,200,300,400,500,600,700,800,900,1000], "tickSize": {"condition": {"test": "indexof([0.1,1,10,100,1000], datum.value) >= 0", "value": 3.5}, "value": 2}, "gridOpacity": {"condition": {"test": "indexof([0.1,1,10,100,1000], datum.value) >= 0", "value": 1}, "value": 0}}},
     "color": {"field": "name", "type": "nominal", "title": null, "scale": {"domain": ["Oₓ","NOₓ","HOₓ","ClOₓBrOₓ","Total"], "range": ["#0000ff","#ff0000","#008000","#00bfbf","#000000"]}, "legend": {"orient": "none", "legendX": 21, "legendY": 597, "direction": "horizontal"}},
     "order": {"field": "p", "type": "quantitative"}}},
   {"data": {"values": [{}]},
    "mark": {"type": "text", "align": "right", "baseline": "alphabetic", "dx": -4.5, "dy": -16.5, "fontSize": 10, "fontWeight": "bold", "lineHeight": 10.8},
    "encoding": {"x": {"datum": 4}, "y": {"datum": 1000}, "text": {"value": ["Baseline","(S0)"]}}}
  ]},
  {"width": 139, "height": 121, "layer": [
   {"transform": [{"filter": "datum.s==2 && datum.m=='E'"}],
    "mark": {"type": "line", "strokeWidth": 1.2, "clip": true},
    "encoding": {
     "x": {"field": "v", "type": "quantitative", "scale": {"domain": [-2,2], "nice": false, "zero": false}, "axis": {"values": [-2,-1,0,1,2], "title": "1e4", "titleX": 139, "titleY": 25.5, "titleAlign": "right", "titleBaseline": "alphabetic", "titleFontWeight": "bold", "titleFontSize": 9.5}},
     "y": {"field": "p", "type": "quantitative", "scale": {"type": "log", "domain": [0.048,1000], "reverse": true, "nice": false}, "axis": {"title": "Pressure [hPa]", "titlePadding": 4, "values": [0.05,0.06,0.07,0.08,0.09,0.1,0.2,0.3,0.4,0.5,0.6,0.7,0.8,0.9,1,2,3,4,5,6,7,8,9,10,20,30,40,50,60,70,80,90,100,200,300,400,500,600,700,800,900,1000], "labelExpr": "datum.value == 0.1 ? '10⁻¹' : datum.value == 1 ? '10⁰' : datum.value == 10 ? '10¹' : datum.value == 100 ? '10²' : datum.value == 1000 ? '10³' : ''", "tickSize": {"condition": {"test": "indexof([0.1,1,10,100,1000], datum.value) >= 0", "value": 3.5}, "value": 2}, "gridOpacity": {"condition": {"test": "indexof([0.1,1,10,100,1000], datum.value) >= 0", "value": 1}, "value": 0}}},
     "color": {"field": "name", "type": "nominal", "title": null, "scale": {"domain": ["Oₓ","NOₓ","HOₓ","ClOₓBrOₓ","Total"], "range": ["#0000ff","#ff0000","#008000","#00bfbf","#000000"]}, "legend": {"orient": "none", "legendX": 21, "legendY": 597, "direction": "horizontal"}},
     "order": {"field": "p", "type": "quantitative"}}},
   {"data": {"values": [{}]},
    "mark": {"type": "text", "align": "right", "baseline": "alphabetic", "dx": -4.5, "dy": -16.5, "fontSize": 10, "fontWeight": "bold", "lineHeight": 10.8},
    "encoding": {"x": {"datum": 2}, "y": {"datum": 1000}, "text": {"value": ["Nominal","(S1-S0)"]}}}
  ]},
  {"width": 139, "height": 121, "layer": [
   {"transform": [{"filter": "datum.s==2 && datum.m=='G'"}],
    "mark": {"type": "line", "strokeWidth": 1.2, "clip": true},
    "encoding": {
     "x": {"field": "v", "type": "quantitative", "scale": {"domain": [-2,2], "nice": false, "zero": false}, "axis": {"values": [-2,-1,0,1,2], "title": "1e4", "titleX": 139, "titleY": 25.5, "titleAlign": "right", "titleBaseline": "alphabetic", "titleFontWeight": "bold", "titleFontSize": 9.5}},
     "y": {"field": "p", "type": "quantitative", "scale": {"type": "log", "domain": [0.048,1000], "reverse": true, "nice": false}, "axis": {"title": null, "labels": false, "values": [0.05,0.06,0.07,0.08,0.09,0.1,0.2,0.3,0.4,0.5,0.6,0.7,0.8,0.9,1,2,3,4,5,6,7,8,9,10,20,30,40,50,60,70,80,90,100,200,300,400,500,600,700,800,900,1000], "tickSize": {"condition": {"test": "indexof([0.1,1,10,100,1000], datum.value) >= 0", "value": 3.5}, "value": 2}, "gridOpacity": {"condition": {"test": "indexof([0.1,1,10,100,1000], datum.value) >= 0", "value": 1}, "value": 0}}},
     "color": {"field": "name", "type": "nominal", "title": null, "scale": {"domain": ["Oₓ","NOₓ","HOₓ","ClOₓBrOₓ","Total"], "range": ["#0000ff","#ff0000","#008000","#00bfbf","#000000"]}, "legend": {"orient": "none", "legendX": 21, "legendY": 597, "direction": "horizontal"}},
     "order": {"field": "p", "type": "quantitative"}}},
   {"data": {"values": [{}]},
    "mark": {"type": "text", "align": "right", "baseline": "alphabetic", "dx": -4.5, "dy": -16.5, "fontSize": 10, "fontWeight": "bold", "lineHeight": 10.8},
    "encoding": {"x": {"datum": 2}, "y": {"datum": 1000}, "text": {"value": ["Nominal","(S1-S0)"]}}}
  ]},
  {"width": 139, "height": 121, "layer": [
   {"transform": [{"filter": "datum.s==2 && datum.m=='L'"}],
    "mark": {"type": "line", "strokeWidth": 1.2, "clip": true},
    "encoding": {
     "x": {"field": "v", "type": "quantitative", "scale": {"domain": [-2,2], "nice": false, "zero": false}, "axis": {"values": [-2,-1,0,1,2], "title": "1e4", "titleX": 139, "titleY": 25.5, "titleAlign": "right", "titleBaseline": "alphabetic", "titleFontWeight": "bold", "titleFontSize": 9.5}},
     "y": {"field": "p", "type": "quantitative", "scale": {"type": "log", "domain": [0.048,1000], "reverse": true, "nice": false}, "axis": {"title": null, "labels": false, "values": [0.05,0.06,0.07,0.08,0.09,0.1,0.2,0.3,0.4,0.5,0.6,0.7,0.8,0.9,1,2,3,4,5,6,7,8,9,10,20,30,40,50,60,70,80,90,100,200,300,400,500,600,700,800,900,1000], "tickSize": {"condition": {"test": "indexof([0.1,1,10,100,1000], datum.value) >= 0", "value": 3.5}, "value": 2}, "gridOpacity": {"condition": {"test": "indexof([0.1,1,10,100,1000], datum.value) >= 0", "value": 1}, "value": 0}}},
     "color": {"field": "name", "type": "nominal", "title": null, "scale": {"domain": ["Oₓ","NOₓ","HOₓ","ClOₓBrOₓ","Total"], "range": ["#0000ff","#ff0000","#008000","#00bfbf","#000000"]}, "legend": {"orient": "none", "legendX": 21, "legendY": 597, "direction": "horizontal"}},
     "order": {"field": "p", "type": "quantitative"}}},
   {"data": {"values": [{}]},
    "mark": {"type": "text", "align": "right", "baseline": "alphabetic", "dx": -4.5, "dy": -16.5, "fontSize": 10, "fontWeight": "bold", "lineHeight": 10.8},
    "encoding": {"x": {"datum": 2}, "y": {"datum": 1000}, "text": {"value": ["Nominal","(S1 - S0)"]}}}
  ]},
  {"width": 139, "height": 121, "layer": [
   {"transform": [{"filter": "datum.s==3 && datum.m=='E'"}],
    "mark": {"type": "line", "strokeWidth": 1.2, "clip": true},
    "encoding": {
     "x": {"field": "v", "type": "quantitative", "scale": {"domain": [-2,4], "nice": false, "zero": false}, "axis": {"values": [-2,-1,0,1,2,3,4], "title": "1e4", "titleX": 139, "titleY": 25.5, "titleAlign": "right", "titleBaseline": "alphabetic", "titleFontWeight": "bold", "titleFontSize": 9.5}},
     "y": {"field": "p", "type": "quantitative", "scale": {"type": "log", "domain": [0.048,1000], "reverse": true, "nice": false}, "axis": {"title": "Pressure [hPa]", "titlePadding": 4, "values": [0.05,0.06,0.07,0.08,0.09,0.1,0.2,0.3,0.4,0.5,0.6,0.7,0.8,0.9,1,2,3,4,5,6,7,8,9,10,20,30,40,50,60,70,80,90,100,200,300,400,500,600,700,800,900,1000], "labelExpr": "datum.value == 0.1 ? '10⁻¹' : datum.value == 1 ? '10⁰' : datum.value == 10 ? '10¹' : datum.value == 100 ? '10²' : datum.value == 1000 ? '10³' : ''", "tickSize": {"condition": {"test": "indexof([0.1,1,10,100,1000], datum.value) >= 0", "value": 3.5}, "value": 2}, "gridOpacity": {"condition": {"test": "indexof([0.1,1,10,100,1000], datum.value) >= 0", "value": 1}, "value": 0}}},
     "color": {"field": "name", "type": "nominal", "title": null, "scale": {"domain": ["Oₓ","NOₓ","HOₓ","ClOₓBrOₓ","Total"], "range": ["#0000ff","#ff0000","#008000","#00bfbf","#000000"]}, "legend": {"orient": "none", "legendX": 21, "legendY": 597, "direction": "horizontal"}},
     "order": {"field": "p", "type": "quantitative"}}},
   {"data": {"values": [{}]},
    "mark": {"type": "text", "align": "right", "baseline": "alphabetic", "dx": -4.5, "dy": -16.5, "fontSize": 10, "fontWeight": "bold", "lineHeight": 10.8},
    "encoding": {"x": {"datum": 4}, "y": {"datum": 1000}, "text": {"value": ["Triple NOₓ","(S2-S0)"]}}}
  ]},
  {"width": 139, "height": 121, "layer": [
   {"transform": [{"filter": "datum.s==3 && datum.m=='G'"}],
    "mark": {"type": "line", "strokeWidth": 1.2, "clip": true},
    "encoding": {
     "x": {"field": "v", "type": "quantitative", "scale": {"domain": [-2,4], "nice": false, "zero": false}, "axis": {"values": [-2,-1,0,1,2,3,4], "title": "1e4", "titleX": 139, "titleY": 25.5, "titleAlign": "right", "titleBaseline": "alphabetic", "titleFontWeight": "bold", "titleFontSize": 9.5}},
     "y": {"field": "p", "type": "quantitative", "scale": {"type": "log", "domain": [0.048,1000], "reverse": true, "nice": false}, "axis": {"title": null, "labels": false, "values": [0.05,0.06,0.07,0.08,0.09,0.1,0.2,0.3,0.4,0.5,0.6,0.7,0.8,0.9,1,2,3,4,5,6,7,8,9,10,20,30,40,50,60,70,80,90,100,200,300,400,500,600,700,800,900,1000], "tickSize": {"condition": {"test": "indexof([0.1,1,10,100,1000], datum.value) >= 0", "value": 3.5}, "value": 2}, "gridOpacity": {"condition": {"test": "indexof([0.1,1,10,100,1000], datum.value) >= 0", "value": 1}, "value": 0}}},
     "color": {"field": "name", "type": "nominal", "title": null, "scale": {"domain": ["Oₓ","NOₓ","HOₓ","ClOₓBrOₓ","Total"], "range": ["#0000ff","#ff0000","#008000","#00bfbf","#000000"]}, "legend": {"orient": "none", "legendX": 21, "legendY": 597, "direction": "horizontal"}},
     "order": {"field": "p", "type": "quantitative"}}},
   {"data": {"values": [{}]},
    "mark": {"type": "text", "align": "right", "baseline": "alphabetic", "dx": -4.5, "dy": -16.5, "fontSize": 10, "fontWeight": "bold", "lineHeight": 10.8},
    "encoding": {"x": {"datum": 4}, "y": {"datum": 1000}, "text": {"value": ["Triple NOₓ","(S2-S0)"]}}}
  ]},
  {"width": 139, "height": 121, "layer": [
   {"transform": [{"filter": "datum.s==3 && datum.m=='L'"}],
    "mark": {"type": "line", "strokeWidth": 1.2, "clip": true},
    "encoding": {
     "x": {"field": "v", "type": "quantitative", "scale": {"domain": [-2,4], "nice": false, "zero": false}, "axis": {"values": [-2,-1,0,1,2,3,4], "title": "1e4", "titleX": 139, "titleY": 25.5, "titleAlign": "right", "titleBaseline": "alphabetic", "titleFontWeight": "bold", "titleFontSize": 9.5}},
     "y": {"field": "p", "type": "quantitative", "scale": {"type": "log", "domain": [0.048,1000], "reverse": true, "nice": false}, "axis": {"title": null, "labels": false, "values": [0.05,0.06,0.07,0.08,0.09,0.1,0.2,0.3,0.4,0.5,0.6,0.7,0.8,0.9,1,2,3,4,5,6,7,8,9,10,20,30,40,50,60,70,80,90,100,200,300,400,500,600,700,800,900,1000], "tickSize": {"condition": {"test": "indexof([0.1,1,10,100,1000], datum.value) >= 0", "value": 3.5}, "value": 2}, "gridOpacity": {"condition": {"test": "indexof([0.1,1,10,100,1000], datum.value) >= 0", "value": 1}, "value": 0}}},
     "color": {"field": "name", "type": "nominal", "title": null, "scale": {"domain": ["Oₓ","NOₓ","HOₓ","ClOₓBrOₓ","Total"], "range": ["#0000ff","#ff0000","#008000","#00bfbf","#000000"]}, "legend": {"orient": "none", "legendX": 21, "legendY": 597, "direction": "horizontal"}},
     "order": {"field": "p", "type": "quantitative"}}},
   {"data": {"values": [{}]},
    "mark": {"type": "text", "align": "right", "baseline": "alphabetic", "dx": -4.5, "dy": -16.5, "fontSize": 10, "fontWeight": "bold", "lineHeight": 10.8},
    "encoding": {"x": {"datum": 4}, "y": {"datum": 1000}, "text": {"value": ["Triple NOₓ","(S2-S0)"]}}}
  ]},
  {"width": 139, "height": 121, "resolve": {"axis": {"x": "independent"}}, "layer": [
   {"transform": [{"filter": "datum.s==4 && datum.m=='E'"}],
    "mark": {"type": "line", "strokeWidth": 1.2, "clip": true},
    "encoding": {
     "x": {"field": "v", "type": "quantitative", "scale": {"domain": [-8,8], "nice": false, "zero": false}, "axis": {"values": [-8,-4,0,4,8], "title": "Δ [molec cm⁻³s⁻¹]", "titleX": 66, "titleY": 25.5, "titleAlign": "center", "titleBaseline": "alphabetic", "titleFontWeight": "normal", "titleFontSize": 9.5}},
     "y": {"field": "p", "type": "quantitative", "scale": {"type": "log", "domain": [0.048,1000], "reverse": true, "nice": false}, "axis": {"title": "Pressure [hPa]", "titlePadding": 4, "values": [0.05,0.06,0.07,0.08,0.09,0.1,0.2,0.3,0.4,0.5,0.6,0.7,0.8,0.9,1,2,3,4,5,6,7,8,9,10,20,30,40,50,60,70,80,90,100,200,300,400,500,600,700,800,900,1000], "labelExpr": "datum.value == 0.1 ? '10⁻¹' : datum.value == 1 ? '10⁰' : datum.value == 10 ? '10¹' : datum.value == 100 ? '10²' : datum.value == 1000 ? '10³' : ''", "tickSize": {"condition": {"test": "indexof([0.1,1,10,100,1000], datum.value) >= 0", "value": 3.5}, "value": 2}, "gridOpacity": {"condition": {"test": "indexof([0.1,1,10,100,1000], datum.value) >= 0", "value": 1}, "value": 0}}},
     "color": {"field": "name", "type": "nominal", "title": null, "scale": {"domain": ["Oₓ","NOₓ","HOₓ","ClOₓBrOₓ","Total"], "range": ["#0000ff","#ff0000","#008000","#00bfbf","#000000"]}, "legend": {"orient": "none", "legendX": 21, "legendY": 597, "direction": "horizontal"}},
     "order": {"field": "p", "type": "quantitative"}}},
   {"data": {"values": [{}]},
    "mark": {"type": "text", "align": "right", "baseline": "alphabetic", "dx": -4.5, "dy": -16.5, "fontSize": 10, "fontWeight": "bold", "lineHeight": 10.8},
    "encoding": {"x": {"datum": 8, "axis": {"orient": "bottom", "title": "1e3", "labels": false, "ticks": false, "domain": false, "grid": false, "titleX": 139, "titleY": 25.5, "titleAlign": "right", "titleBaseline": "alphabetic", "titleFontWeight": "bold", "titleFontSize": 9.5}}, "y": {"datum": 1000}, "text": {"value": ["Low cruise","(S3-S0)"]}}}
  ]},
  {"width": 139, "height": 121, "resolve": {"axis": {"x": "independent"}}, "layer": [
   {"transform": [{"filter": "datum.s==4 && datum.m=='G'"}],
    "mark": {"type": "line", "strokeWidth": 1.2, "clip": true},
    "encoding": {
     "x": {"field": "v", "type": "quantitative", "scale": {"domain": [-8,8], "nice": false, "zero": false}, "axis": {"values": [-8,-4,0,4,8], "title": "Δ [molec cm⁻³s⁻¹]", "titleX": 66, "titleY": 25.5, "titleAlign": "center", "titleBaseline": "alphabetic", "titleFontWeight": "normal", "titleFontSize": 9.5}},
     "y": {"field": "p", "type": "quantitative", "scale": {"type": "log", "domain": [0.048,1000], "reverse": true, "nice": false}, "axis": {"title": null, "labels": false, "values": [0.05,0.06,0.07,0.08,0.09,0.1,0.2,0.3,0.4,0.5,0.6,0.7,0.8,0.9,1,2,3,4,5,6,7,8,9,10,20,30,40,50,60,70,80,90,100,200,300,400,500,600,700,800,900,1000], "tickSize": {"condition": {"test": "indexof([0.1,1,10,100,1000], datum.value) >= 0", "value": 3.5}, "value": 2}, "gridOpacity": {"condition": {"test": "indexof([0.1,1,10,100,1000], datum.value) >= 0", "value": 1}, "value": 0}}},
     "color": {"field": "name", "type": "nominal", "title": null, "scale": {"domain": ["Oₓ","NOₓ","HOₓ","ClOₓBrOₓ","Total"], "range": ["#0000ff","#ff0000","#008000","#00bfbf","#000000"]}, "legend": {"orient": "none", "legendX": 21, "legendY": 597, "direction": "horizontal"}},
     "order": {"field": "p", "type": "quantitative"}}},
   {"data": {"values": [{}]},
    "mark": {"type": "text", "align": "right", "baseline": "alphabetic", "dx": -4.5, "dy": -16.5, "fontSize": 10, "fontWeight": "bold", "lineHeight": 10.8},
    "encoding": {"x": {"datum": 8, "axis": {"orient": "bottom", "title": "1e3", "labels": false, "ticks": false, "domain": false, "grid": false, "titleX": 139, "titleY": 25.5, "titleAlign": "right", "titleBaseline": "alphabetic", "titleFontWeight": "bold", "titleFontSize": 9.5}}, "y": {"datum": 1000}, "text": {"value": ["Low cruise","(S3-S0)"]}}}
  ]},
  {"width": 139, "height": 121, "resolve": {"axis": {"x": "independent"}}, "layer": [
   {"transform": [{"filter": "datum.s==4 && datum.m=='L'"}],
    "mark": {"type": "line", "strokeWidth": 1.2, "clip": true},
    "encoding": {
     "x": {"field": "v", "type": "quantitative", "scale": {"domain": [-8,8], "nice": false, "zero": false}, "axis": {"values": [-8,-4,0,4,8], "title": "Δ [molec cm⁻³s⁻¹]", "titleX": 66, "titleY": 25.5, "titleAlign": "center", "titleBaseline": "alphabetic", "titleFontWeight": "normal", "titleFontSize": 9.5}},
     "y": {"field": "p", "type": "quantitative", "scale": {"type": "log", "domain": [0.048,1000], "reverse": true, "nice": false}, "axis": {"title": null, "labels": false, "values": [0.05,0.06,0.07,0.08,0.09,0.1,0.2,0.3,0.4,0.5,0.6,0.7,0.8,0.9,1,2,3,4,5,6,7,8,9,10,20,30,40,50,60,70,80,90,100,200,300,400,500,600,700,800,900,1000], "tickSize": {"condition": {"test": "indexof([0.1,1,10,100,1000], datum.value) >= 0", "value": 3.5}, "value": 2}, "gridOpacity": {"condition": {"test": "indexof([0.1,1,10,100,1000], datum.value) >= 0", "value": 1}, "value": 0}}},
     "color": {"field": "name", "type": "nominal", "title": null, "scale": {"domain": ["Oₓ","NOₓ","HOₓ","ClOₓBrOₓ","Total"], "range": ["#0000ff","#ff0000","#008000","#00bfbf","#000000"]}, "legend": {"orient": "none", "legendX": 21, "legendY": 597, "direction": "horizontal"}},
     "order": {"field": "p", "type": "quantitative"}}},
   {"data": {"values": [{}]},
    "mark": {"type": "text", "align": "right", "baseline": "alphabetic", "dx": -4.5, "dy": -16.5, "fontSize": 10, "fontWeight": "bold", "lineHeight": 10.8},
    "encoding": {"x": {"datum": 8, "axis": {"orient": "bottom", "title": "1e3", "labels": false, "ticks": false, "domain": false, "grid": false, "titleX": 139, "titleY": 25.5, "titleAlign": "right", "titleBaseline": "alphabetic", "titleFontWeight": "bold", "titleFontSize": 9.5}}, "y": {"datum": 1000}, "text": {"value": ["Low cruise","(S3-S0)"]}}}
  ]}
]
}
